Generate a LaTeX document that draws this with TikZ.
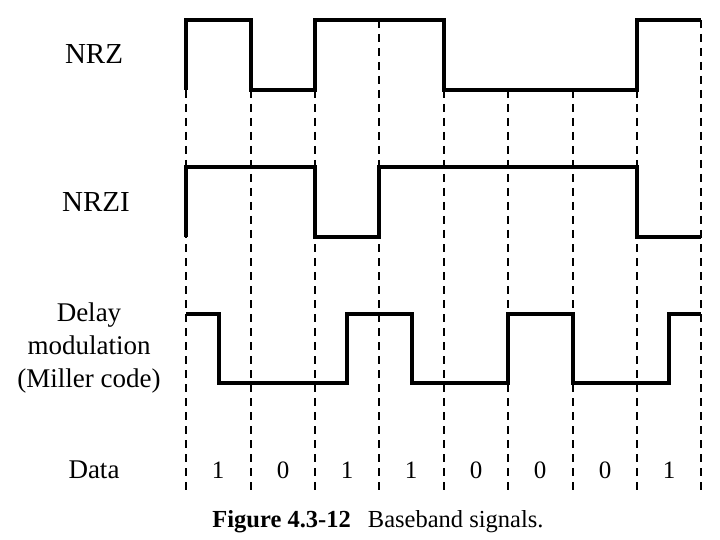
\documentclass[tikz,border=0pt]{standalone}
\usepackage{fontspec}
\setmainfont{Liberation Serif}
\usetikzlibrary{positioning}

\begin{document}
\begin{tikzpicture}[x=1pt,y=-1pt,
  wave/.style={line width=4pt,line join=miter},
  grid/.style={line width=1.8pt,dash pattern=on 8pt off 6pt},
  lbl/.style={font=\fontsize{27}{33}\selectfont,align=center,inner sep=0pt},
  bit/.style={font=\fontsize{25}{30}\selectfont,inner sep=0pt}]
  \useasboundingbox (0,0) rectangle (720,540);
  % bit boundaries (from the NRZ level down)
  \foreach \x/\y in {186/20, 251/20, 315/20, 379/20, 444/20,
                     508/90, 573/90, 637/20, 701/20}
    \draw[grid] (\x,\y) -- (\x,495);
  % NRZ
  \draw[wave] (186,90) -- (186,20) -- (251,20) -- (251,90) -- (315,90)
    -- (315,20) -- (444,20) -- (444,90) -- (637,90) -- (637,20) -- (701,20);
  % NRZI
  \draw[wave] (186,237) -- (186,167) -- (315,167) -- (315,237) -- (379,237)
    -- (379,167) -- (637,167) -- (637,237) -- (701,237);
  % Miller
  \draw[wave] (186,314) -- (219,314) -- (219,383) -- (347,383) -- (347,314)
    -- (412,314) -- (412,383) -- (508,383) -- (508,314) -- (573,314)
    -- (573,383) -- (669,383) -- (669,314) -- (701,314);
  % labels
  \node[lbl,font=\fontsize{29}{33}\selectfont] (nrz) at (94,54) {NRZ};
  \node[lbl,font=\fontsize{29}{33}\selectfont] (nrzi) at (96,202) {NRZI};
  \node[lbl] (miller) at (89,348) {Delay\\modulation\\(Miller code)};
  \node[lbl] (data) at (94,470) {Data};
  % data bits
  \foreach \x/\b [count=\i] in {218/1, 283/0, 347/1, 411/1,
                                476/0, 540/0, 605/0, 669/1}
    \node[bit] (d\i) at (\x,470) {\b};
  % caption
  \node[font=\fontsize{24.5}{28}\selectfont,inner sep=0pt] (cap) at (378,522)
    {\textbf{Figure 4.3-12}\hspace{0.7em}Baseband signals.};
\end{tikzpicture}
\end{document}
